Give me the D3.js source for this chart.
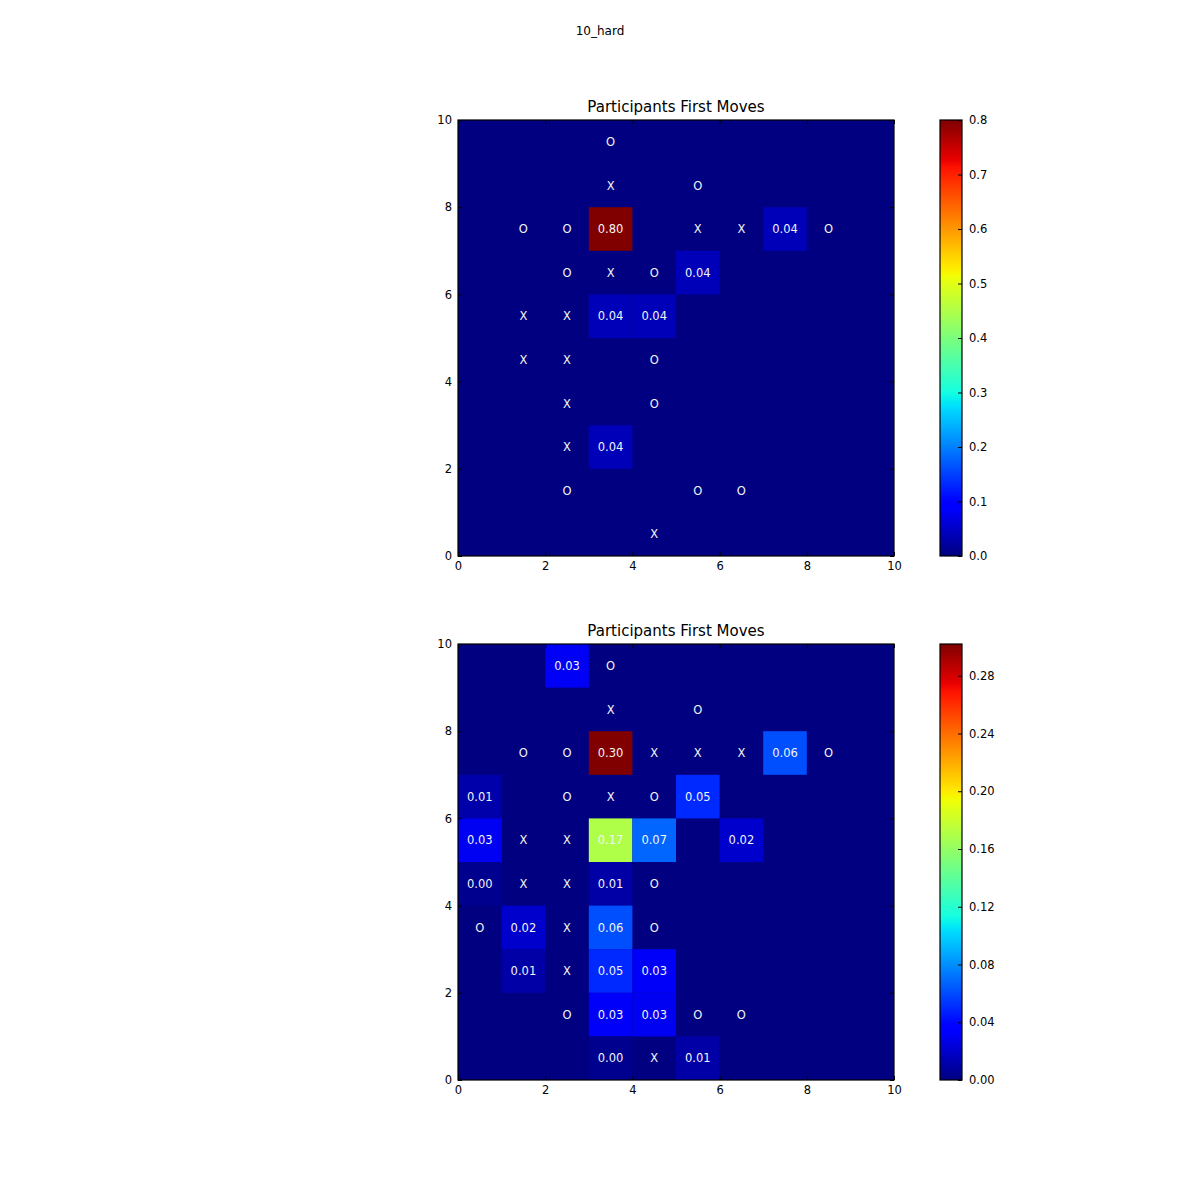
<!DOCTYPE html>
<html>
<head>
<meta charset="utf-8">
<script src="https://cdn.jsdelivr.net/npm/d3@7.9.0/dist/d3.min.js"></script>
<style>
  body { margin: 0; background: #fff; }
  svg { font-family: "DejaVu Sans", sans-serif; }
</style>
</head>
<body>
<div id="chart"></div>
<script>
// board is 10x10, cells addressed as [column, row] with row 0 at the bottom
const gridSize = 10;
const axisTicks = [0, 2, 4, 6, 8, 10];

// top panel: share of first moves per cell
const topValues = [
  [3, 7, 0.80], [7, 7, 0.04], [5, 6, 0.04],
  [3, 5, 0.04], [4, 5, 0.04], [3, 2, 0.04]
];
const topPieces = [
  [3, 9, 'O'], [3, 8, 'X'], [5, 8, 'O'],
  [1, 7, 'O'], [2, 7, 'O'], [5, 7, 'X'], [6, 7, 'X'], [8, 7, 'O'],
  [2, 6, 'O'], [3, 6, 'X'], [4, 6, 'O'],
  [1, 5, 'X'], [2, 5, 'X'],
  [1, 4, 'X'], [2, 4, 'X'], [4, 4, 'O'],
  [2, 3, 'X'], [4, 3, 'O'],
  [2, 2, 'X'],
  [2, 1, 'O'], [5, 1, 'O'], [6, 1, 'O'],
  [4, 0, 'X']
];
const topCbarTicks = [0, 0.1, 0.2, 0.3, 0.4, 0.5, 0.6, 0.7, 0.8];

// bottom panel
const bottomValues = [
  [2, 9, 0.031],
  [3, 7, 0.302], [7, 7, 0.061],
  [0, 6, 0.011], [5, 6, 0.050],
  [0, 5, 0.030], [3, 5, 0.170], [4, 5, 0.068], [6, 5, 0.020],
  [0, 4, 0.004], [3, 4, 0.010],
  [1, 3, 0.020], [3, 3, 0.061],
  [1, 2, 0.010], [3, 2, 0.050], [4, 2, 0.032],
  [3, 1, 0.032], [4, 1, 0.030],
  [3, 0, 0.004], [5, 0, 0.010]
];
const bottomPieces = [
  [3, 9, 'O'], [3, 8, 'X'], [5, 8, 'O'],
  [1, 7, 'O'], [2, 7, 'O'], [4, 7, 'X'], [5, 7, 'X'], [6, 7, 'X'], [8, 7, 'O'],
  [2, 6, 'O'], [3, 6, 'X'], [4, 6, 'O'],
  [1, 5, 'X'], [2, 5, 'X'],
  [1, 4, 'X'], [2, 4, 'X'], [4, 4, 'O'],
  [0, 3, 'O'], [2, 3, 'X'], [4, 3, 'O'],
  [2, 2, 'X'],
  [2, 1, 'O'], [5, 1, 'O'], [6, 1, 'O'],
  [4, 0, 'X']
];
const bottomCbarTicks = [0, 0.04, 0.08, 0.12, 0.16, 0.20, 0.24, 0.28];

// matplotlib "jet" colormap
const jetR = d3.scaleLinear().domain([0, 0.35, 0.66, 0.89, 1]).range([0, 0, 1, 1, 0.5]).clamp(true);
const jetG = d3.scaleLinear().domain([0, 0.125, 0.375, 0.64, 0.91, 1]).range([0, 0, 1, 1, 0, 0]).clamp(true);
const jetB = d3.scaleLinear().domain([0, 0.11, 0.34, 0.65, 1]).range([0.5, 1, 1, 0, 0]).clamp(true);
function jet(t) {
  return d3.rgb(jetR(t) * 255, jetG(t) * 255, jetB(t) * 255).formatHex();
}

const width = 1200;
const height = 1200;

const svg = d3.select('#chart')
  .append('svg')
  .attr('width', width)
  .attr('height', height);

svg.append('text')
  .attr('x', 600)
  .attr('y', 35)
  .attr('text-anchor', 'middle')
  .attr('font-size', '12px')
  .text('10_hard');

svg.append('defs');

function drawPanel(top, values, pieces, cbarTicks, cbarFormat, id) {
  const left = 458;
  const size = 436;
  const vmax = d3.max(values, d => d[2]);

  const xScale = d3.scaleLinear().domain([0, gridSize]).range([left, left + size]);
  const yScale = d3.scaleLinear().domain([0, gridSize]).range([top + size, top]);
  const color = d3.scaleLinear().domain([0, vmax]).range([0, 1]).clamp(true);

  const g = svg.append('g');

  // background = zero
  g.append('rect')
    .attr('x', xScale(0))
    .attr('y', yScale(gridSize))
    .attr('width', xScale(gridSize) - xScale(0))
    .attr('height', yScale(0) - yScale(gridSize))
    .attr('fill', jet(0));

  g.selectAll('rect.cell')
    .data(values)
    .join('rect')
    .attr('class', 'cell')
    .attr('x', d => xScale(d[0]))
    .attr('y', d => yScale(d[1] + 1))
    .attr('width', xScale(1) - xScale(0))
    .attr('height', yScale(0) - yScale(1))
    .attr('fill', d => jet(color(d[2])));

  const labels = values.map(d => [d[0], d[1], d3.format('.2f')(d[2])]).concat(pieces);
  g.selectAll('text.cell-label')
    .data(labels)
    .join('text')
    .attr('class', 'cell-label')
    .attr('x', d => xScale(d[0] + 0.5))
    .attr('y', d => yScale(d[1] + 0.5))
    .attr('dy', '0.36em')
    .attr('text-anchor', 'middle')
    .attr('font-size', '11.5px')
    .attr('fill', '#f4f4f4')
    .text(d => d[2]);

  // ticks point inwards on all four sides
  g.append('g')
    .attr('transform', `translate(0,${top + size})`)
    .call(d3.axisBottom(xScale).tickValues(axisTicks).tickSize(-4).tickPadding(6).tickFormat(d3.format('d')));
  g.append('g')
    .attr('transform', `translate(${left},0)`)
    .call(d3.axisLeft(yScale).tickValues(axisTicks).tickSize(-4).tickPadding(6).tickFormat(d3.format('d')));
  g.append('g')
    .attr('transform', `translate(0,${top})`)
    .call(d3.axisTop(xScale).tickValues(axisTicks).tickSize(-4).tickFormat(''));
  g.append('g')
    .attr('transform', `translate(${left + size},0)`)
    .call(d3.axisRight(yScale).tickValues(axisTicks).tickSize(-4).tickFormat(''));

  g.selectAll('.domain').remove();
  g.selectAll('.tick text').attr('font-size', '11.5px').attr('font-family', '"DejaVu Sans", sans-serif').attr('fill', '#000');
  g.selectAll('.tick line').attr('stroke', '#000');

  g.append('rect')
    .attr('x', left)
    .attr('y', top)
    .attr('width', size)
    .attr('height', size)
    .attr('fill', 'none')
    .attr('stroke', '#000')
    .attr('stroke-width', 1.2);

  g.append('text')
    .attr('x', left + size / 2)
    .attr('y', top - 8)
    .attr('text-anchor', 'middle')
    .attr('font-size', '15px')
    .text('Participants First Moves');

  // colorbar
  const cbLeft = 940;
  const cbWidth = 22;
  const cbScale = d3.scaleLinear().domain([0, vmax]).range([top + size, top]);

  const grad = svg.select('defs').append('linearGradient')
    .attr('id', id)
    .attr('x1', 0).attr('y1', 1)
    .attr('x2', 0).attr('y2', 0);
  grad.selectAll('stop')
    .data(d3.range(0, 1.0001, 0.01))
    .join('stop')
    .attr('offset', d => d)
    .attr('stop-color', d => jet(d));

  g.append('rect')
    .attr('x', cbLeft)
    .attr('y', top)
    .attr('width', cbWidth)
    .attr('height', size)
    .attr('fill', `url(#${id})`)
    .attr('stroke', '#000')
    .attr('stroke-width', 1.2);

  const cbAxis = g.append('g')
    .attr('transform', `translate(${cbLeft + cbWidth},0)`)
    .call(d3.axisRight(cbScale).tickValues(cbarTicks).tickSize(-4).tickPadding(7).tickFormat(d3.format(cbarFormat)));
  cbAxis.select('.domain').remove();
  cbAxis.selectAll('.tick text').attr('font-size', '11.5px').attr('font-family', '"DejaVu Sans", sans-serif').attr('fill', '#000');
  cbAxis.selectAll('.tick line').attr('stroke', '#000');
}

drawPanel(120, topValues, topPieces, topCbarTicks, '.1f', 'cbar-top');
drawPanel(644, bottomValues, bottomPieces, bottomCbarTicks, '.2f', 'cbar-bottom');
</script>
</body>
</html>
